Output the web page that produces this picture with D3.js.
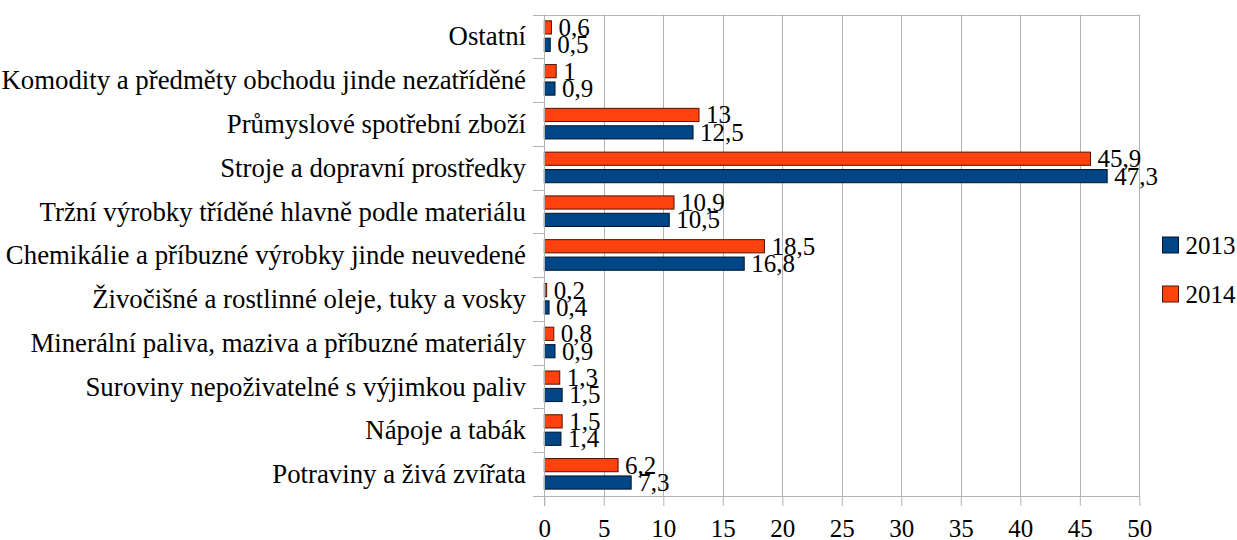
<!DOCTYPE html>
<html>
<head>
<meta charset="utf-8">
<script src="https://cdn.jsdelivr.net/npm/d3@7/dist/d3.min.js"></script>
<style>
  html, body { margin: 0; padding: 0; background: #fff; }
  svg { display: block; }
</style>
</head>
<body>
<svg id="chart"></svg>
<script>
// categories from bottom to top, as in the picture
var categories = [
  "Potraviny a živá zvířata",
  "Nápoje a tabák",
  "Suroviny nepoživatelné s výjimkou paliv",
  "Minerální paliva, maziva a příbuzné materiály",
  "Živočišné a rostlinné oleje, tuky a vosky",
  "Chemikálie a příbuzné výrobky jinde neuvedené",
  "Tržní výrobky tříděné hlavně podle materiálu",
  "Stroje a dopravní prostředky",
  "Průmyslové spotřební zboží",
  "Komodity a předměty obchodu jinde nezatříděné",
  "Ostatní"
];
var values2013 = [7.3, 1.4, 1.5, 0.9, 0.4, 16.8, 10.5, 47.3, 12.5, 0.9, 0.5];
var values2014 = [6.2, 1.5, 1.3, 0.8, 0.2, 18.5, 10.9, 45.9, 13, 1, 0.6];
var seriesNames = ["2013", "2014"];
var xTicks = [0, 5, 10, 15, 20, 25, 30, 35, 40, 45, 50];

var width = 1237, height = 540;
var colors = { "2013": "#004586", "2014": "#ff420e" };
var outlines = { "2013": "#00152b", "2014": "#4d1404" };
var font = "'Liberation Serif'";
var catSize = 26.8, numSize = 25;
var plotTop = 14.5, plotBottom = 496;

var svg = d3.select("#chart")
  .attr("width", width)
  .attr("height", height);

var x = d3.scaleLinear().domain([0, 50]).range([544.3, 1139.3]);
var y = d3.scaleBand()
  .domain(categories.slice().reverse())
  .range([plotTop, plotBottom]);

var fmt = function(v) { return String(v).replace(".", ","); };

// vertical grid
svg.append("g")
  .selectAll("line")
  .data(xTicks.slice(1))
  .enter()
  .append("line")
  .attr("x1", d => Math.round(x(d)) + 0.5).attr("x2", d => Math.round(x(d)) + 0.5)
  .attr("y1", plotTop).attr("y2", plotBottom)
  .attr("stroke", "#b3b3b3");

// bars
var rows = categories.map((c, i) => ({ cat: c, v2013: values2013[i], v2014: values2014[i] }));
var bw = y.bandwidth();
var barH = 13.2;
var off = { "2014": 6.3, "2013": 23.7 };

var groups = svg.append("g")
  .selectAll("g")
  .data(rows)
  .enter()
  .append("g")
  .attr("transform", d => "translate(0," + y(d.cat) + ")");

seriesNames.forEach(function(s) {
  groups.append("rect")
    .attr("x", x(0))
    .attr("y", off[s])
    .attr("width", d => x(d["v" + s]) - x(0))
    .attr("height", barH)
    .attr("fill", colors[s])
    .attr("stroke", outlines[s])
    .attr("stroke-width", 1);
});
seriesNames.forEach(function(s) {
  groups.append("text")
    .attr("x", d => x(d["v" + s]) + 7)
    .attr("y", off[s] + barH / 2)
    .attr("dy", "0.34em")
    .style("font-family", font)
    .style("font-size", numSize + "px")
    .text(d => fmt(d["v" + s]));
});

// x axis
var xAxis = svg.append("g")
  .attr("transform", "translate(0," + plotBottom + ")")
  .call(d3.axisBottom(x).tickValues(xTicks).tickSize(10).tickPadding(13).tickFormat(d => d))
  .attr("font-family", "Liberation Serif")
  .attr("font-size", numSize);
xAxis.select(".domain").attr("stroke", "#b3b3b3").attr("d", "M533,0.5H" + (x(50) + 0.5));
xAxis.selectAll(".tick line").attr("stroke", "#b3b3b3");
xAxis.selectAll("text")
  .attr("fill", "#000")
  .style("font-family", font)
  .style("font-size", numSize + "px");

// y axis
var yTicks = d3.range(categories.length + 1).map(i => plotTop + i * bw);
svg.append("line")
  .attr("x1", Math.round(x(0)) + 0.5).attr("x2", Math.round(x(0)) + 0.5)
  .attr("y1", plotTop).attr("y2", plotBottom + 10)
  .attr("stroke", "#b3b3b3");
svg.append("line")
  .attr("x1", 533).attr("x2", x(50) + 0.5)
  .attr("y1", Math.round(plotTop) + 0.5).attr("y2", Math.round(plotTop) + 0.5)
  .attr("stroke", "#b3b3b3");
svg.append("g")
  .selectAll("line")
  .data(yTicks)
  .enter()
  .append("line")
  .attr("x1", 533).attr("x2", x(0))
  .attr("y1", d => Math.round(d) + 0.5).attr("y2", d => Math.round(d) + 0.5)
  .attr("stroke", "#b3b3b3");

svg.append("g")
  .selectAll("text")
  .data(categories)
  .enter()
  .append("text")
  .attr("x", 526)
  .attr("y", d => y(d) + bw / 2)
  .attr("dy", "0.34em")
  .attr("text-anchor", "end")
  .style("font-family", font)
  .style("font-size", catSize + "px")
  .text(d => d);

// legend
var legend = svg.append("g")
  .selectAll("g")
  .data(seriesNames)
  .enter()
  .append("g")
  .attr("transform", (d, i) => "translate(1162.5," + (237 + i * 49) + ")");
legend.append("rect")
  .attr("width", 16).attr("height", 16)
  .attr("fill", d => colors[d])
  .attr("stroke", d => outlines[d]);
legend.append("text")
  .attr("x", 23).attr("y", 8.5)
  .attr("dy", "0.34em")
  .style("font-family", font)
  .style("font-size", numSize + "px")
  .text(d => d);
</script>
</body>
</html>
